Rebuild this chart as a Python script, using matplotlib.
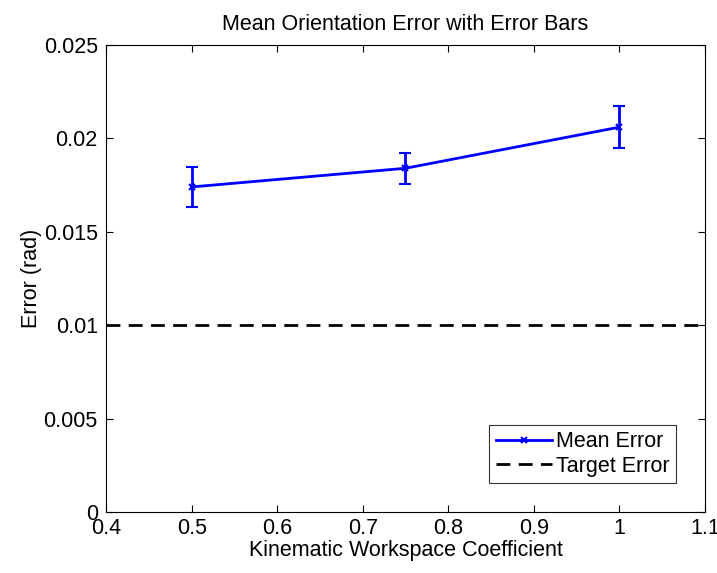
import numpy as np
import matplotlib
matplotlib.use('Agg')
import matplotlib.pyplot as plt
from matplotlib.lines import Line2D

plt.rcParams['font.family'] = ['Liberation Sans', 'DejaVu Sans']

coef = [0.5, 0.75, 1.0]
mean_err = [0.0174, 0.0184, 0.0206]
err_bar = [0.00108, 0.00082, 0.00111]
target = 0.01

fig = plt.figure(figsize=(7.17, 5.73), dpi=100)
ax = fig.add_axes([0.148, 0.1065, 0.835, 0.815])

ax.errorbar(coef, mean_err, yerr=err_bar, color='#0000ff', lw=2, marker='x',
            ms=5, mew=1.5, capsize=4, capthick=2, elinewidth=2)
ax.axhline(target, color='black', lw=2, ls='--', dashes=(5, 3))

ax.set_xlim(0.4, 1.1)
ax.set_ylim(0, 0.025)
ax.set_xticks(np.arange(0.4, 1.101, 0.1))
ax.set_xticklabels(['0.4', '0.5', '0.6', '0.7', '0.8', '0.9', '1', '1.1'])
ax.set_yticks([0, 0.005, 0.01, 0.015, 0.02, 0.025])
ax.set_yticklabels(['0', '0.005', '0.01', '0.015', '0.02', '0.025'])
ax.tick_params(direction='in', top=True, right=True, length=5, labelsize=15.5,
               width=0.8)
ax.tick_params(axis='y', pad=6)
ax.tick_params(axis='x', pad=4)
for s in ax.spines.values():
    s.set_linewidth(0.8)

ax.set_title('Mean Orientation Error with Error Bars', fontsize=15.5, pad=11)
ax.set_xlabel('Kinematic Workspace Coefficient', fontsize=15.5, labelpad=1)
ax.set_ylabel('Error (rad)', fontsize=15.5, labelpad=1)

handles = [Line2D([], [], color='#0000ff', lw=2, marker='x', ms=5, mew=1.5),
           Line2D([], [], color='black', lw=2, ls='--', dashes=(5, 3))]
leg = ax.legend(handles, ['Mean Error', 'Target Error'], loc='lower right',
                bbox_to_anchor=(0.952, 0.062), fontsize=15.5,
                frameon=True, fancybox=False, edgecolor='black',
                handlelength=2.6, handletextpad=0.2, borderpad=0.3,
                labelspacing=0.15, borderaxespad=0)
leg.get_frame().set_linewidth(0.8)

fig.savefig('out.png', dpi=100)
